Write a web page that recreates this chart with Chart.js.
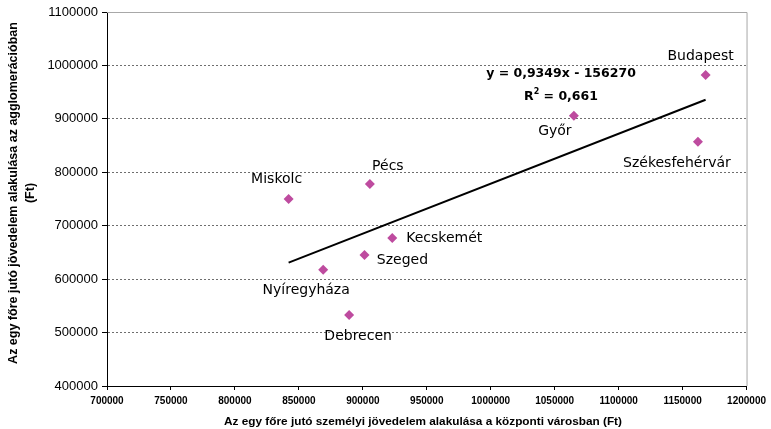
<!DOCTYPE html>
<html><head><meta charset="utf-8">
<script src="https://cdn.jsdelivr.net/npm/chart.js@4/dist/chart.umd.min.js"></script>
<style>html,body{margin:0;padding:0;background:#fff}#wrap{width:771px;height:429px}</style>
</head><body><div id="wrap"><canvas id="c" width="771" height="429"></canvas></div>
<script>
const cities = ['Budapest','Győr','Székesfehérvár','Miskolc','Pécs','Kecskemét','Szeged','Nyíregyháza','Debrecen'];
const centralIncome = [1168000,1065000,1162000,842000,905500,923000,901300,869000,889300];
const agglomIncome = [982000,906000,857000,750000,778000,677000,645000,617500,533000];
const trendSlope = 0.9349;
const trendIntercept = -156270;
const trendEquation = 'y = 0,9349x - 156270';
const trendR2 = '0,661';
const xTitle = 'Az egy főre jutó személyi jövedelem alakulása a központi városban (Ft)';
const yTitle = ['Az egy főre jutó jövedelem alakulása az agglomerációban', '(Ft)'];

const labelOffsets = {
  'Budapest':[-5,-19], 'Győr':[-19,16], 'Székesfehérvár':[-21,22], 'Miskolc':[-12,-20],
  'Pécs':[18,-18], 'Kecskemét':[52,0], 'Szeged':[38,5], 'Nyíregyháza':[-17,21], 'Debrecen':[9,21]
};

const points = cities.map((c,i)=>({x:centralIncome[i], y:agglomIncome[i]}));
const xMin = Math.min(...centralIncome), xMax = Math.max(...centralIncome);
const trend = [xMin, xMax].map(x=>({x, y: trendSlope*x + trendIntercept}));

const decor = {
  id:'decor',
  afterDatasetsDraw(chart){
    const ctx = chart.ctx, a = chart.chartArea;
    ctx.save();
    ctx.strokeStyle = '#a8a8a8'; ctx.lineWidth = 1;
    ctx.beginPath();
    ctx.moveTo(a.left, a.top+0.5); ctx.lineTo(a.right+0.5, a.top+0.5); ctx.lineTo(a.right+0.5, a.bottom);
    ctx.stroke();
    // point labels
    const meta = chart.getDatasetMeta(1);
    ctx.fillStyle = '#000';
    ctx.font = '14px "DejaVu Sans"';
    ctx.textAlign = 'center'; ctx.textBaseline = 'middle';
    meta.data.forEach((el,i)=>{
      const off = labelOffsets[cities[i]] || [0,-18];
      ctx.fillText(cities[i], el.x + off[0], el.y + off[1]);
    });
    // equation
    const cx = 561;
    ctx.font = 'bold 12.5px "DejaVu Sans"';
    ctx.fillText(trendEquation, cx, 74);
    const p1 = 'R', p3 = ' = ' + trendR2;
    const w1 = ctx.measureText(p1).width, w3 = ctx.measureText(p3).width;
    ctx.font = 'bold 8px "DejaVu Sans"';
    const w2 = ctx.measureText('2').width;
    let sx = cx - (w1+w2+w3)/2;
    ctx.textAlign = 'left';
    ctx.font = 'bold 12.5px "DejaVu Sans"';
    ctx.fillText(p1, sx, 97);
    ctx.font = 'bold 8px "DejaVu Sans"';
    ctx.fillText('2', sx+w1, 92);
    ctx.font = 'bold 12.5px "DejaVu Sans"';
    ctx.fillText(p3, sx+w1+w2, 97);
    // axis titles
    ctx.textAlign = 'center';
    ctx.font = 'bold 11.8px "Liberation Sans", Arial';
    ctx.fillText(xTitle, 423, 422);
    ctx.font = 'bold 12.5px "Liberation Sans", Arial';
    ctx.save();
    ctx.translate(14, 193); ctx.rotate(-Math.PI/2);
    ctx.fillText(yTitle[0], 0, 0);
    ctx.restore();
    ctx.save();
    ctx.translate(31, 193); ctx.rotate(-Math.PI/2);
    ctx.fillText(yTitle[1], 0, 0);
    ctx.restore();
    ctx.restore();
  }
};

new Chart(document.getElementById('c'), {
  type:'scatter',
  data:{datasets:[
    {type:'line', label:'Trend', data:trend, borderColor:'#000', borderWidth:2, pointRadius:0, fill:false, showLine:true},
    {label:'Városok', data:points, pointStyle:'rectRot', pointRadius:5, pointHoverRadius:5,
     backgroundColor:'#BE4B9F', borderColor:'#BE4B9F', borderWidth:0}
  ]},
  options:{
    responsive:false, animation:false,
    layout:{padding:{left:0,right:24,top:12,bottom:0}},
    plugins:{legend:{display:false}, tooltip:{enabled:false}},
    scales:{
      x:{type:'linear', min:700000, max:1200000,
        ticks:{stepSize:50000, autoSkip:false, maxRotation:0, color:'#000', padding:5,
          font:{family:'"Liberation Sans", Arial', size:10, weight:'bold'}, callback:v=>String(v)},
        grid:{drawOnChartArea:false, tickLength:4, tickColor:'#000'},
        border:{color:'#000', width:1},
        afterFit:s=>{s.height = 43;}
      },
      y:{min:400000, max:1100000,
        ticks:{stepSize:100000, color:'#000', padding:4,
          font:{family:'"Liberation Sans", Arial', size:13}, callback:v=>String(v)},
        grid:{color:c=> (c.tick && (c.tick.value===400000 || c.tick.value===1100000)) ? 'rgba(0,0,0,0)' : '#6e6e6e',
          tickLength:5, tickColor:'#000'},
        border:{color:'#000', width:1, dash:[2,2]},
        afterFit:s=>{s.width = 107;}
      }
    }
  },
  plugins:[decor]
});
</script></body></html>
